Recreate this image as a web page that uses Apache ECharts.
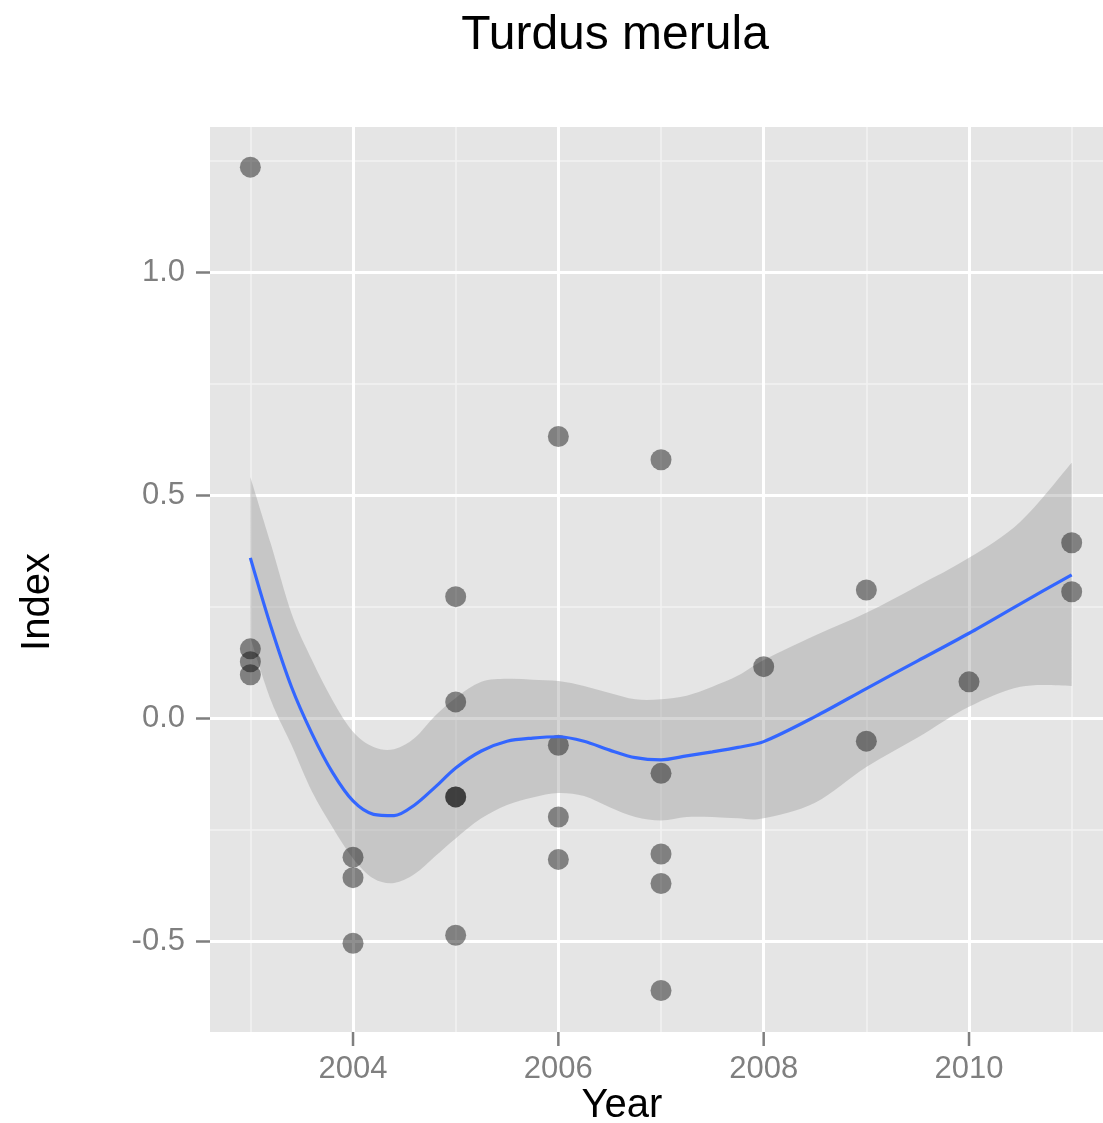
<!DOCTYPE html>
<html>
<head>
<meta charset="utf-8">
<script src="https://cdn.jsdelivr.net/npm/echarts@6/dist/echarts.min.js"></script>
<style>
  html, body { margin: 0; padding: 0; background: #fff; }
  #chart { width: 1103px; height: 1123px; }
</style>
</head>
<body>
<div id="chart"></div>
<script>
// observed points
const pointYears = [2003, 2003, 2003, 2003, 2004, 2004, 2004, 2005, 2005, 2005, 2005, 2005,
  2006, 2006, 2006, 2006, 2007, 2007, 2007, 2007, 2007, 2008, 2009, 2009, 2010, 2011, 2011];
const pointIndex = [1.235, 0.155, 0.126, 0.097, -0.312, -0.358, -0.505, 0.272, 0.036, -0.177, -0.177, -0.487,
  0.631, -0.061, -0.222, -0.317, 0.579, -0.124, -0.305, -0.371, -0.611, 0.115, 0.287, -0.052, 0.081, 0.393, 0.283];

// loess fit and confidence band
const fitYears = [2003, 2003.2, 2003.4, 2003.6, 2003.8, 2004, 2004.2, 2004.4, 2004.6, 2004.8, 2005, 2005.25, 2005.5, 2005.75,
  2006, 2006.25, 2006.5, 2006.75, 2007, 2007.25, 2007.5, 2007.75, 2008, 2008.5, 2009, 2009.5, 2010, 2010.5, 2011];
const fitValues = [0.359, 0.205, 0.07, -0.035, -0.122, -0.186, -0.216, -0.219, -0.195, -0.155, -0.112, -0.074, -0.052, -0.045,
  -0.042, -0.052, -0.072, -0.089, -0.094, -0.085, -0.076, -0.066, -0.053, 0.003, 0.066, 0.128, 0.19, 0.256, 0.321];
const bandUpper = [0.54, 0.39, 0.235, 0.13, 0.04, -0.031, -0.065, -0.07, -0.045, 0.005, 0.045, 0.081, 0.088, 0.086,
  0.083, 0.072, 0.056, 0.042, 0.042, 0.05, 0.07, 0.095, 0.13, 0.185, 0.236, 0.296, 0.359, 0.44, 0.572];
const bandLower = [0.18, 0.04, -0.06, -0.165, -0.245, -0.315, -0.36, -0.37, -0.35, -0.31, -0.27, -0.225, -0.195, -0.178,
  -0.168, -0.175, -0.2, -0.222, -0.23, -0.222, -0.222, -0.225, -0.225, -0.19, -0.11, -0.044, 0.025, 0.07, 0.072];

// ticks
const xMajor = [2004, 2006, 2008, 2010];
const xMinor = [2003, 2005, 2007, 2009, 2011];
const yMajor = [-0.5, 0, 0.5, 1.0];
const yMinor = [-0.25, 0.25, 0.75, 1.25];

const xMin = 2002.607, xMax = 2011.305;
const yMin = -0.704, yMax = 1.325;

const chart = echarts.init(document.getElementById('chart'));

const tickColor = '#7F7F7F';
const font = 'Liberation Sans, Arial, Helvetica, sans-serif';

// smooth path (Catmull-Rom as cubic bezier) through pixel points
function curveThrough(pts, moveFirst) {
  let d = (moveFirst ? 'M' : 'L') + pts[0][0] + ',' + pts[0][1];
  for (let i = 0; i < pts.length - 1; i++) {
    const p0 = pts[Math.max(i - 1, 0)], p1 = pts[i], p2 = pts[i + 1], p3 = pts[Math.min(i + 2, pts.length - 1)];
    const c1 = [p1[0] + (p2[0] - p0[0]) / 6, p1[1] + (p2[1] - p0[1]) / 6];
    const c2 = [p2[0] - (p3[0] - p1[0]) / 6, p2[1] - (p3[1] - p1[1]) / 6];
    d += 'C' + c1[0] + ',' + c1[1] + ' ' + c2[0] + ',' + c2[1] + ' ' + p2[0] + ',' + p2[1];
  }
  return d;
}

const option = {
  animation: false,
  grid: {
    left: 210, top: 127, right: 0, bottom: 91,
    show: true, backgroundColor: '#E5E5E5', borderWidth: 0
  },
  xAxis: [
    {
      type: 'value', position: 'bottom', min: xMin, max: xMax,
      axisLine: { show: false, onZero: false },
      axisTick: { show: false, customValues: xMajor },
      axisLabel: { customValues: xMajor, margin: 22, color: tickColor, fontSize: 31, fontFamily: font,
        formatter: (v) => String(v) },
      splitLine: { show: true, lineStyle: { color: '#FFFFFF', width: 3 } },
      z: 2
    },
    {
      type: 'value', position: 'top', min: xMin, max: xMax,
      axisLine: { show: false, onZero: false },
      axisTick: { show: false, customValues: xMinor },
      axisLabel: { show: false, customValues: xMinor },
      splitLine: { show: true, lineStyle: { color: '#F2F2F2', width: 1.6 } },
      z: 1
    }
  ],
  yAxis: [
    {
      type: 'value', position: 'left', min: yMin, max: yMax,
      axisLine: { show: false, onZero: false },
      axisTick: { show: true, inside: false, customValues: yMajor, length: 14, lineStyle: { color: tickColor, width: 2.5 } },
      axisLabel: { customValues: yMajor, margin: 25, color: tickColor, fontSize: 31, fontFamily: font,
        formatter: (v) => v.toFixed(1) },
      splitLine: { show: true, lineStyle: { color: '#FFFFFF', width: 3 } },
      z: 2
    },
    {
      type: 'value', position: 'right', min: yMin, max: yMax,
      axisLine: { show: false, onZero: false },
      axisTick: { show: false, customValues: yMinor },
      axisLabel: { show: false, customValues: yMinor },
      splitLine: { show: true, lineStyle: { color: '#F2F2F2', width: 1.6 } },
      z: 1
    }
  ],
  graphic: [
    { type: 'text', x: 615, y: 36, style: { text: 'Turdus merula', font: '48px ' + font, fill: '#000',
      align: 'center', verticalAlign: 'middle' } },
    { type: 'text', x: 622, y: 1106, style: { text: 'Year', font: '40px ' + font, fill: '#000',
      align: 'center', verticalAlign: 'middle' } },
    { type: 'text', x: 38, y: 602, rotation: Math.PI / 2, style: { text: 'Index', font: '40px ' + font, fill: '#000',
      align: 'center', verticalAlign: 'middle' } }
  ],
  series: [
    {
      // confidence band, plus the x tick marks under the panel
      type: 'custom',
      xAxisIndex: 0, yAxisIndex: 0,
      data: fitYears.map((x, i) => [x, bandLower[i], bandUpper[i]]),
      encode: { x: 0, y: [1, 2] },
      clip: false, silent: true,
      renderItem: (params, api) => {
        if (params.dataIndex !== 0) return null;
        const up = fitYears.map((x, i) => api.coord([x, bandUpper[i]]));
        const lo = fitYears.map((x, i) => api.coord([x, bandLower[i]])).reverse();
        const d = curveThrough(up, true) + curveThrough(lo, false) + 'Z';
        const children = [{ type: 'path', shape: { pathData: d }, style: { fill: 'rgba(153,153,153,0.4)' } }];
        xMajor.forEach((v) => {
          const p = api.coord([v, yMin]);
          children.push({ type: 'line', shape: { x1: p[0], y1: p[1], x2: p[0], y2: p[1] + 14 },
            style: { stroke: tickColor, lineWidth: 2.5 } });
        });
        return { type: 'group', children: children };
      },
      z: 3
    },
    {
      type: 'scatter',
      xAxisIndex: 0, yAxisIndex: 0,
      data: pointYears.map((x, i) => [x, pointIndex[i]]),
      symbolSize: 21,
      itemStyle: { color: 'rgba(0,0,0,0.55)' },
      z: 4
    },
    {
      type: 'line',
      xAxisIndex: 0, yAxisIndex: 0,
      data: fitYears.map((x, i) => [x, fitValues[i]]),
      smooth: 0.3,
      showSymbol: false,
      lineStyle: { color: '#3366FF', width: 3.2 },
      z: 5
    }
  ]
};

chart.setOption(option);
</script>
</body>
</html>
